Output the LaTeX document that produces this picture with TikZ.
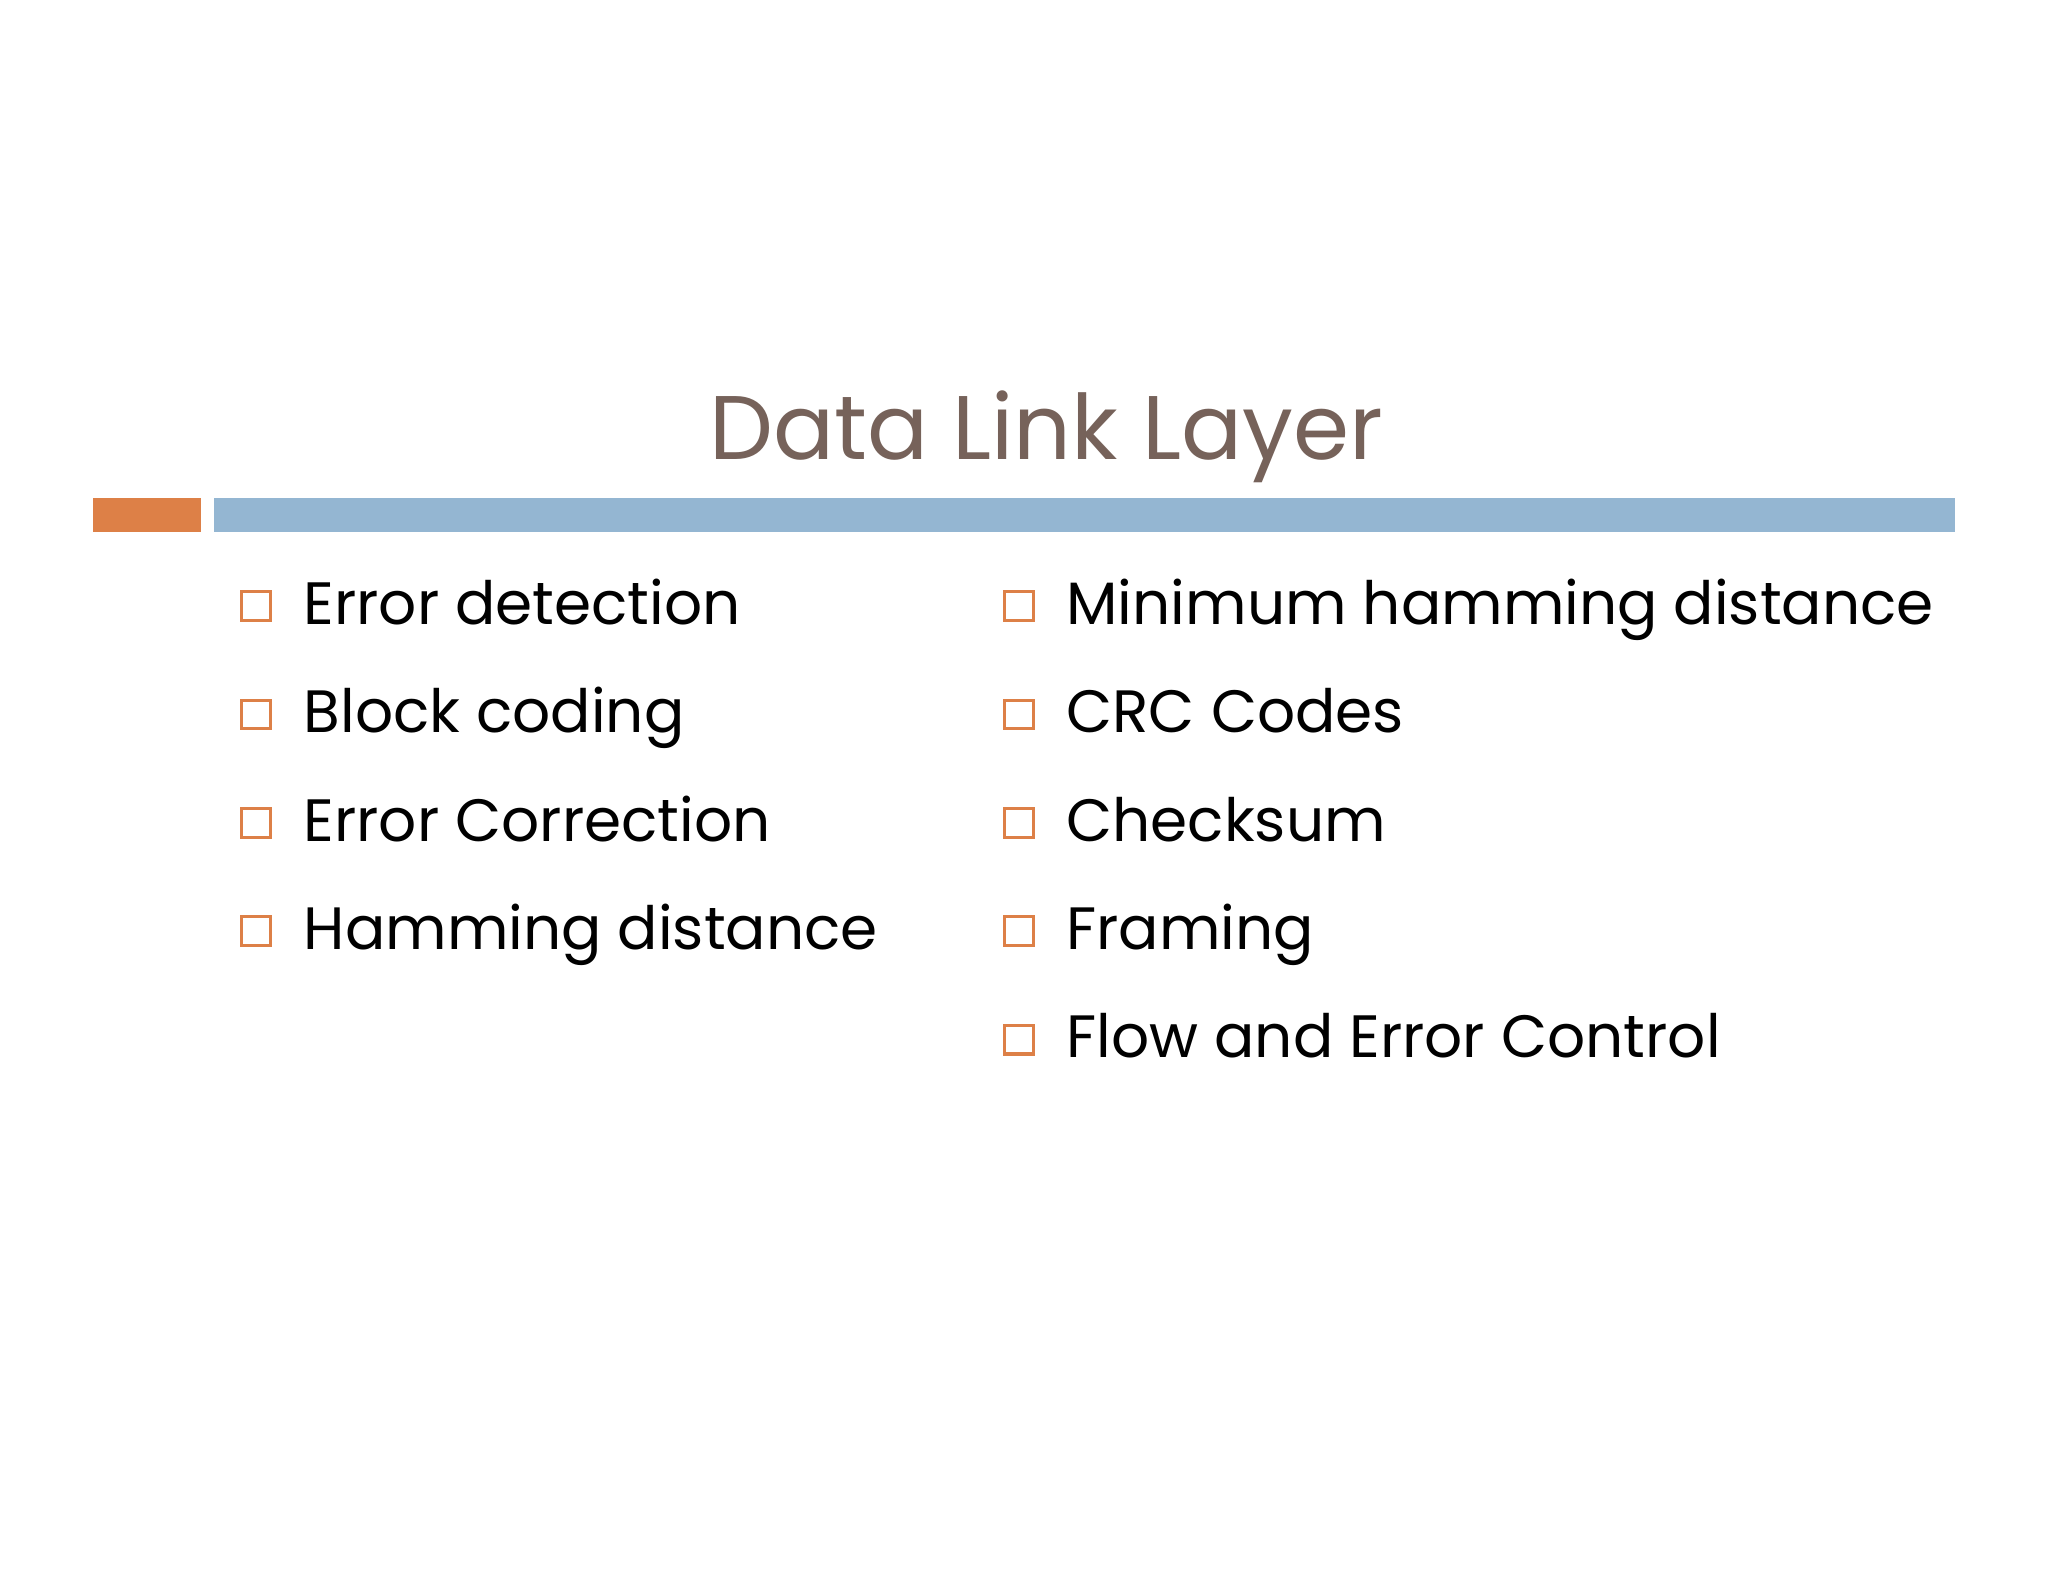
\documentclass[tikz,border=0pt]{standalone}
\usepackage{fontspec}
\setmainfont{Poppins}
\definecolor{ttl}{HTML}{76625A}
\definecolor{org}{HTML}{DD8047}
\definecolor{blu}{HTML}{94B6D2}
\begin{document}
\begin{tikzpicture}[x=0.01306cm,y=-0.01306cm,
  item/.style={anchor=base west,inner sep=0pt,font=\fontsize{17}{20}\selectfont,text=black},
  bul/.style={draw=org,line width=0.9pt}]
\useasboundingbox (0,0) rectangle (1568,1211);
\node[anchor=base,inner sep=0pt,text=ttl,font=\fontsize{25.7}{30}\selectfont] (title) at (801,352) {Data Link Layer};
\fill[org] (71,381) rectangle (154,407);
\fill[blu] (164,381) rectangle (1497,407);
\foreach \t [count=\i] in {Error detection,Block coding,Error Correction,Hamming distance}{
  \draw[bul] (185,{453+(\i-1)*83}) rectangle +(22,22);
  \node[item] (l\i) at (232,{478+(\i-1)*83}) {\t};
}
\foreach \t [count=\i] in {Minimum hamming distance,CRC Codes,Checksum,Framing,Flow and Error Control}{
  \draw[bul] (769,{453+(\i-1)*83}) rectangle +(22,22);
  \node[item] (r\i) at (816,{478+(\i-1)*83}) {\t};
}
\end{tikzpicture}
\end{document}
